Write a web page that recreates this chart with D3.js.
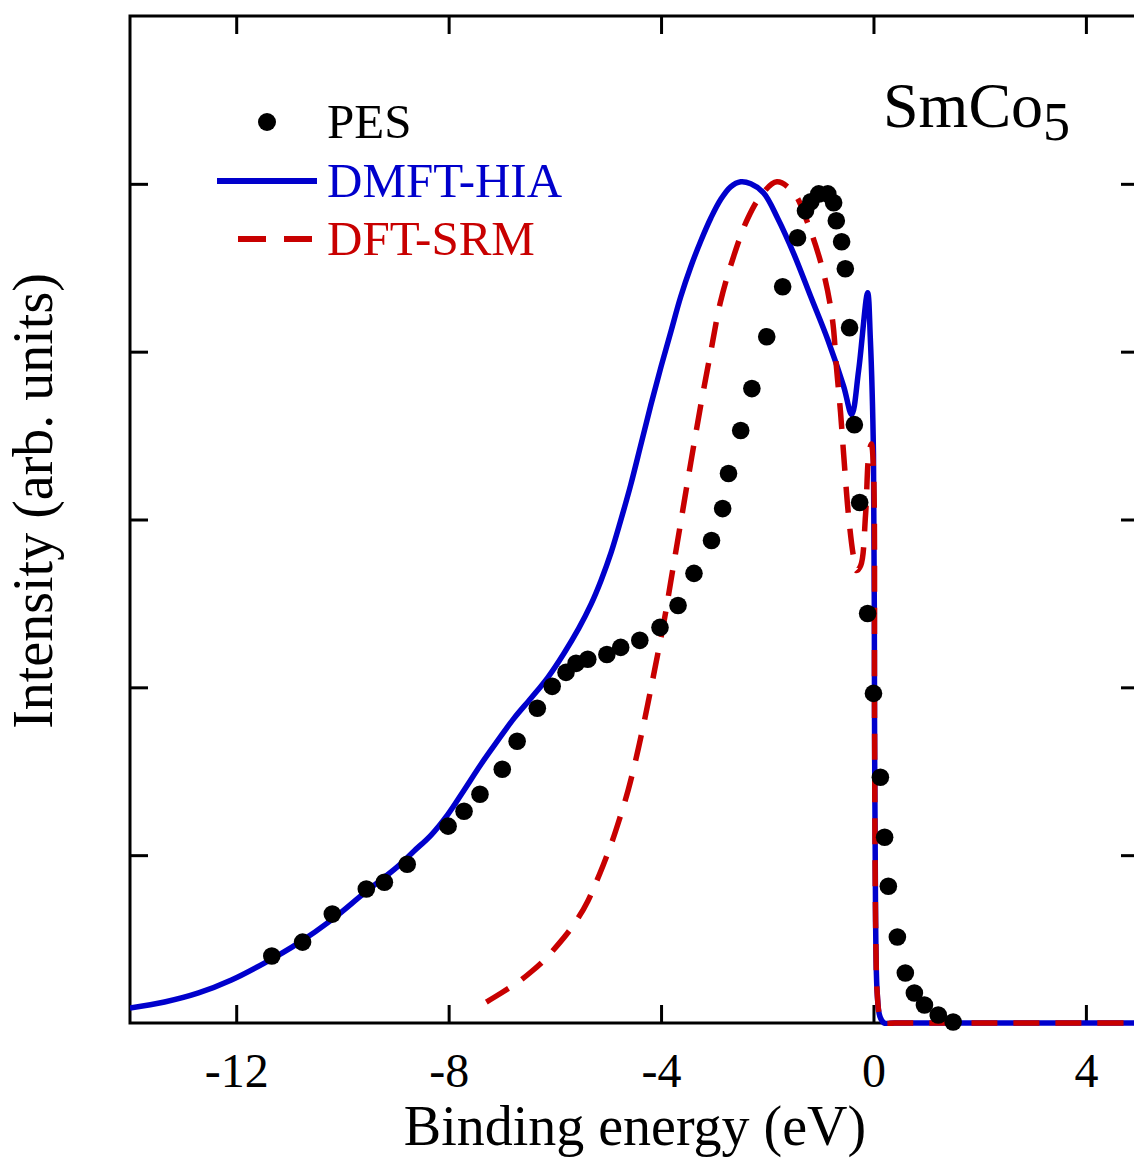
<!DOCTYPE html>
<html>
<head>
<meta charset="utf-8">
<script src="https://cdn.jsdelivr.net/npm/d3@7"></script>
<style>
  html, body { margin: 0; padding: 0; background: #fff; }
  svg text { font-family: "Liberation Serif", "Times New Roman", serif; }
</style>
</head>
<body>
<div id="pes_plot"></div>
<script>
// PES data (binding energy eV, intensity)
const pesData = [
    [-11.33, 0.399], [-10.75, 0.482], [-10.19, 0.649], [-9.55, 0.798], [-9.21, 0.839],
    [-8.78, 0.946], [-8.01, 1.173], [-7.71, 1.262], [-7.41, 1.363], [-6.99, 1.512],
    [-6.71, 1.679], [-6.33, 1.875], [-6.05, 2.006], [-5.79, 2.089], [-5.60, 2.143],
    [-5.38, 2.167], [-5.02, 2.196], [-4.76, 2.238], [-4.40, 2.280], [-4.02, 2.357],
    [-3.68, 2.488], [-3.38, 2.679], [-3.05, 2.875], [-2.84, 3.065], [-2.73, 3.274],
    [-2.50, 3.530], [-2.29, 3.780], [-2.01, 4.089], [-1.71, 4.387], [-1.43, 4.679],
    [-1.28, 4.839], [-1.18, 4.893], [-1.03, 4.940], [-0.86, 4.940], [-0.75, 4.887],
    [-0.70, 4.780], [-0.60, 4.655], [-0.53, 4.494], [-0.45, 4.143], [-0.36, 3.565],
    [-0.26, 3.101], [-0.11, 2.440], [0.00, 1.964], [0.13, 1.464], [0.21, 1.107],
    [0.28, 0.815], [0.45, 0.512], [0.60, 0.298], [0.77, 0.179], [0.96, 0.107],
    [1.22, 0.048], [1.50, 0.006]
];

// DMFT-HIA curve
const hiaData = [
    [-14.0, 0.089], [-13.35, 0.125], [-12.71, 0.179], [-12.09, 0.256], [-11.47, 0.357],
    [-10.83, 0.476], [-10.21, 0.613], [-9.59, 0.774], [-8.95, 0.935], [-8.65, 1.025],
    [-8.33, 1.12], [-8.01, 1.245], [-7.71, 1.387], [-7.39, 1.542], [-7.07, 1.685],
    [-6.77, 1.815], [-6.45, 1.935], [-6.13, 2.06], [-5.83, 2.202], [-5.55, 2.351],
    [-5.32, 2.494], [-5.13, 2.637], [-4.94, 2.804], [-4.76, 2.994], [-4.57, 3.208],
    [-4.38, 3.446], [-4.19, 3.685], [-4.00, 3.911], [-3.81, 4.125], [-3.63, 4.327],
    [-3.44, 4.506], [-3.25, 4.661], [-3.06, 4.798], [-2.88, 4.905], [-2.69, 4.982],
    [-2.50, 5.012], [-2.31, 5.0], [-2.07, 4.946], [-1.80, 4.792], [-1.50, 4.583],
    [-1.18, 4.327], [-0.86, 4.071], [-0.56, 3.792], [-0.41, 3.625], [-0.28, 3.887],
    [-0.11, 4.351], [-0.06, 4.083], [0.0, 3.39], [0.02, 1.8], [0.04, 0.6],
    [0.07, 0.18], [0.12, 0.04], [0.2, 0.0], [0.4, 0.0], [1.0, 0.0], [2.0, 0.0],
    [3.0, 0.0], [4.0, 0.0], [5.0, 0.0]
];

// DFT-SRM curve
const srmData = [
    [-7.29, 0.125], [-7.01, 0.179], [-6.69, 0.244], [-6.45, 0.304], [-6.20, 0.375],
    [-5.98, 0.452], [-5.76, 0.536], [-5.55, 0.631], [-5.38, 0.726], [-5.23, 0.833],
    [-5.09, 0.94], [-4.94, 1.065], [-4.79, 1.208], [-4.62, 1.387], [-4.47, 1.577],
    [-4.32, 1.792], [-4.19, 1.994], [-4.06, 2.202], [-3.93, 2.417], [-3.82, 2.625],
    [-3.63, 2.982], [-3.44, 3.339], [-3.25, 3.685], [-3.06, 4.006], [-2.88, 4.298],
    [-2.63, 4.571], [-2.37, 4.792], [-2.12, 4.929], [-1.82, 5.012], [-1.50, 4.946],
    [-1.24, 4.768], [-0.94, 4.47], [-0.77, 4.185], [-0.70, 3.917], [-0.62, 3.637],
    [-0.56, 3.381], [-0.47, 3.024], [-0.38, 2.786], [-0.32, 2.696], [-0.24, 2.726],
    [-0.15, 3.024], [-0.09, 3.381], [-0.04, 3.45], [0.0, 3.3], [0.02, 1.8],
    [0.04, 0.6], [0.07, 0.18], [0.12, 0.04], [0.2, 0.0], [0.4, 0.0], [1.0, 0.0],
    [2.0, 0.0], [3.0, 0.0], [4.0, 0.0], [5.0, 0.0]
];

const xTicks = [-12, -8, -4, 0, 4];
const yTicks = [1, 2, 3, 4, 5];
const xDomain = [-14, 5];
const yDomain = [0, 6];

const blue = "#0000cc";
const red = "#c80000";

const svgWidth = 1134;
const svgHeight = 1158;
const plot = {left: 130, right: 1139, top: 16, bottom: 1023};

const svg = d3.select("#pes_plot")
    .append("svg")
        .attr("width", svgWidth)
        .attr("height", svgHeight);

const xScale = d3.scaleLinear().domain(xDomain).range([plot.left, plot.right]);
const yScale = d3.scaleLinear().domain(yDomain).range([plot.bottom, plot.top]);

// keep curves inside the frame (a little room below so the zero line is not cut)
svg.append("clipPath")
    .attr("id", "plot-clip")
  .append("rect")
    .attr("x", plot.left)
    .attr("y", plot.top - 10)
    .attr("width", plot.right - plot.left)
    .attr("height", plot.bottom - plot.top + 13);

// Ticks (inward, all four sides)
const tickLen = 18;
const bottomAxis = svg.append("g")
    .attr("transform", `translate(0, ${plot.bottom})`)
    .call(d3.axisBottom(xScale).tickValues(xTicks).tickSize(-tickLen).tickSizeOuter(0)
        .tickFormat(d => d < 0 ? "-" + Math.abs(d) : d).tickPadding(30));
const topAxis = svg.append("g")
    .attr("transform", `translate(0, ${plot.top})`)
    .call(d3.axisTop(xScale).tickValues(xTicks).tickSize(-tickLen).tickSizeOuter(0).tickFormat(""));
const leftAxis = svg.append("g")
    .attr("transform", `translate(${plot.left}, 0)`)
    .call(d3.axisLeft(yScale).tickValues(yTicks).tickSize(-tickLen).tickSizeOuter(0).tickFormat(""));
const rightAxis = svg.append("g")
    .attr("transform", `translate(${plot.right}, 0)`)
    .call(d3.axisRight(yScale).tickValues(yTicks).tickSize(-tickLen).tickSizeOuter(0).tickFormat(""));

[bottomAxis, topAxis, leftAxis, rightAxis].forEach(ax => {
    ax.attr("font-family", null);
    ax.select(".domain").remove();
    ax.selectAll(".tick line").attr("stroke", "#000").attr("stroke-width", 3);
});
bottomAxis.selectAll(".tick text")
    .attr("fill", "#000")
    .style("font-size", "48px");

// Frame
svg.append("rect")
    .attr("x", plot.left)
    .attr("y", plot.top)
    .attr("width", plot.right - plot.left)
    .attr("height", plot.bottom - plot.top)
    .attr("fill", "none")
    .attr("stroke", "#000")
    .attr("stroke-width", 3);

// Curves
const line = d3.line()
    .x(d => xScale(d[0]))
    .y(d => yScale(d[1]))
    .curve(d3.curveCatmullRom.alpha(0.5));

const curves = svg.append("g").attr("clip-path", "url(#plot-clip)");
curves.append("path")
    .datum(hiaData)
    .attr("d", line)
    .attr("fill", "none")
    .attr("stroke", blue)
    .attr("stroke-width", 5.5)
    .attr("stroke-linejoin", "round");
curves.append("path")
    .datum(srmData)
    .attr("d", line)
    .attr("fill", "none")
    .attr("stroke", red)
    .attr("stroke-width", 5.5)
    .attr("stroke-dasharray", "26,16");

// PES points
svg.append("g")
    .selectAll("circle")
    .data(pesData)
    .join("circle")
        .attr("cx", d => xScale(d[0]))
        .attr("cy", d => yScale(d[1]))
        .attr("r", 8.8)
        .attr("fill", "#000");

// Legend
const legend = svg.append("g");
legend.append("circle").attr("cx", 267).attr("cy", 122).attr("r", 9).attr("fill", "#000");
legend.append("text").attr("x", 327).attr("y", 138).style("font-size", "49px").attr("fill", "#000").text("PES");
legend.append("line").attr("x1", 217).attr("x2", 317).attr("y1", 181).attr("y2", 181)
    .attr("stroke", blue).attr("stroke-width", 6);
legend.append("text").attr("x", 327).attr("y", 197).style("font-size", "49px").attr("fill", blue).text("DMFT-HIA");
legend.append("line").attr("x1", 238).attr("x2", 312).attr("y1", 239).attr("y2", 239)
    .attr("stroke", red).attr("stroke-width", 6).attr("stroke-dasharray", "28,18");
legend.append("text").attr("x", 327).attr("y", 255).style("font-size", "49px").attr("fill", red).text("DFT-SRM");

// Compound label
const title = svg.append("text")
    .attr("x", 883)
    .attr("y", 127)
    .style("font-size", "64px")
    .attr("fill", "#000");
title.append("tspan").text("SmCo");
title.append("tspan").attr("dy", 13).style("font-size", "54px").text("5");

// Axis labels
svg.append("text")
    .attr("x", 635)
    .attr("y", 1145)
    .attr("text-anchor", "middle")
    .style("font-size", "56px")
    .attr("fill", "#000")
    .text("Binding energy (eV)");

svg.append("text")
    .attr("transform", "translate(52, 501) rotate(-90)")
    .attr("text-anchor", "middle")
    .style("font-size", "56px")
    .attr("fill", "#000")
    .text("Intensity (arb. units)");
</script>
</body>
</html>
